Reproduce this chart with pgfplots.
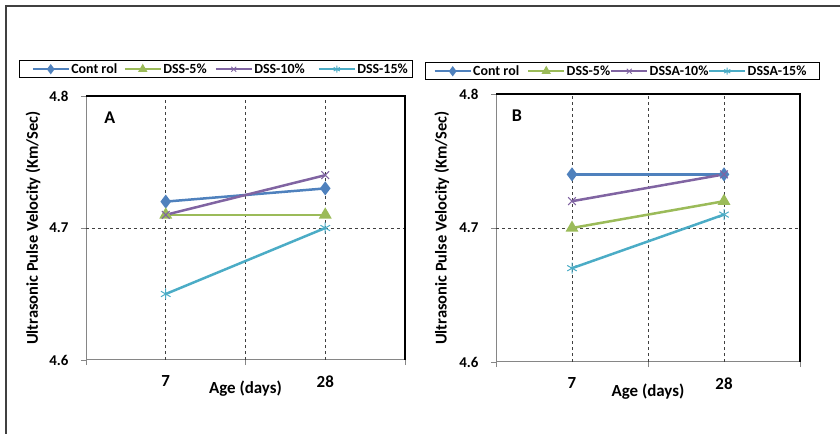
\documentclass[border=0pt]{standalone}
\usepackage{fontspec}
\setmainfont{Carlito}
\usepackage{pgfplots}
\pgfplotsset{compat=1.18}
\definecolor{cBlue}{HTML}{4F81BD}
\definecolor{cGreen}{HTML}{9BBB59}
\definecolor{cPurple}{HTML}{8064A2}
\definecolor{cCyan}{HTML}{4BACC6}
\definecolor{axgray}{HTML}{868686}
\pgfplotsset{
  myax/.style={
    scale only axis, clip=false,
    xmin=0, xmax=4, ymin=4.6, ymax=4.8,
    xtick={0,2,4}, xticklabels={},
    ytick={4.6,4.7,4.8},
    tick pos=left,
    tick align=outside,
    major tick length=5bp,
    tick style={axgray, line width=0.9bp},
    axis line style={axgray, line width=1bp},
    yticklabel style={font=\bfseries\fontsize{15}{15}\selectfont, xshift=-9bp},
    /pgf/number format/assume math mode=true,
    /pgf/number format/fixed,
    /pgf/number format/precision=1,
    /pgf/number format/fixed zerofill,
    grid style={dashed, black!75, line width=0.9bp},
    extra x ticks={1,2,3},
    extra x tick labels={7,,28},
    extra x tick style={grid=major, major tick length=0pt,
      xticklabel style={font=\bfseries\fontsize{17}{17}\selectfont, yshift=-12bp}},
    extra y ticks={4.7},
    extra y tick labels={},
    extra y tick style={grid=major, major tick length=0pt},
    xlabel={Age (days)},
    xlabel style={font=\bfseries\fontsize{17}{17}\selectfont, at={(axis description cs:0.5,-0.11)}, anchor=center},
    ylabel={Ultrasonic Pulse Velocity (Km/Sec)},
    ylabel style={font=\bfseries\fontsize{16.5}{16.5}\selectfont, anchor=center},
    legend columns=4,
    legend style={draw=black, line width=1bp, font=\bfseries\fontsize{14}{14}\selectfont,
      inner xsep=0bp, inner ysep=3bp, nodes={inner sep=0bp},
      /tikz/every even column/.append style={column sep=0bp},
      /tikz/every odd column/.append style={column sep=1.5bp}},
    legend image code/.code={\draw[line width=2bp, mark repeat=2, mark phase=2, mark size=3.5bp] plot coordinates {(0bp,0bp) (18bp,0bp) (36bp,0bp)};},
  },
  sCtrl/.style={cBlue, line width=2.5bp, mark=diamond*, mark size=5bp, mark options={solid, fill=cBlue}},
  sFive/.style={cGreen, line width=2.5bp, mark=triangle*, mark size=5bp, mark options={solid, fill=cGreen}},
  sTen/.style={cPurple, line width=2.5bp, mark=x, mark size=5.5bp, mark options={solid, line width=1bp}},
  sFif/.style={cCyan, line width=2.5bp, mark=asterisk, mark size=5.5bp, mark options={solid, line width=1bp}},
}
\begin{document}
\begin{tikzpicture}
\useasboundingbox (0,0) rectangle (840bp,434bp);
\draw[black!75, line width=1.5bp] (6bp,0bp) -- (6bp,428bp) -- (840bp,428bp);
% Panel A
\begin{axis}[myax, at={(86bp,74bp)}, anchor=south west, width=319bp, height=264bp,
  ylabel style={at={(axis description cs:-0.166,0.5)}},
  legend style={at={(axis description cs:-0.21,1.136)}, anchor=north west}]
\addplot[sCtrl, legend image code/.code={\path (-12bp,0bp); \draw[line width=2bp, mark repeat=2, mark phase=2, mark size=3.5bp] plot coordinates {(0bp,0bp) (18bp,0bp) (36bp,0bp)};}] coordinates {(1,4.72) (3,4.73)};
\addlegendentry{\makebox[52.5bp][l]{Cont rol}}
\addplot[sFive] coordinates {(1,4.71) (3,4.71)};
\addlegendentry{\makebox[51.5bp][l]{DSS-5\%}}
\addplot[sTen] coordinates {(1,4.71) (3,4.74)};
\addlegendentry{\makebox[63.5bp][l]{DSS-10\%}}
\addplot[sFif] coordinates {(1,4.65) (3,4.70)};
\addlegendentry{\makebox[55.5bp][l]{DSS-15\%}}
\draw[black, line width=1.2bp] (rel axis cs:0,1) -- (rel axis cs:1,1) -- (rel axis cs:1,0);
\node[font=\bfseries\fontsize{18}{18}\selectfont] at (rel axis cs:0.075,0.917) {A};
\end{axis}
% Panel B
\begin{axis}[myax, at={(496bp,72bp)}, anchor=south west, width=304bp, height=268bp,
  ylabel style={at={(axis description cs:-0.178,0.5)}},
  legend style={at={(axis description cs:-0.2336,1.119)}, anchor=north west}]
\addplot[sCtrl, legend image code/.code={\path (-8bp,0bp); \draw[line width=2bp, mark repeat=2, mark phase=2, mark size=3.5bp] plot coordinates {(0bp,0bp) (18bp,0bp) (36bp,0bp)};}] coordinates {(1,4.74) (3,4.74)};
\addlegendentry{\makebox[54bp][l]{Cont rol}}
\addplot[sFive] coordinates {(1,4.70) (3,4.72)};
\addlegendentry{\makebox[43.5bp][l]{DSS-5\%}}
\addplot[sTen] coordinates {(1,4.72) (3,4.74)};
\addlegendentry{\makebox[58.5bp][l]{DSSA-10\%}}
\addplot[sFif] coordinates {(1,4.67) (3,4.71)};
\addlegendentry{\makebox[71.5bp][l]{DSSA-15\%}}
\draw[black, line width=1.2bp] (rel axis cs:0,1) -- (rel axis cs:1,1) -- (rel axis cs:1,0);
\node[font=\bfseries\fontsize{18}{18}\selectfont] at (rel axis cs:0.069,0.918) {B};
\end{axis}
\end{tikzpicture}
\end{document}
